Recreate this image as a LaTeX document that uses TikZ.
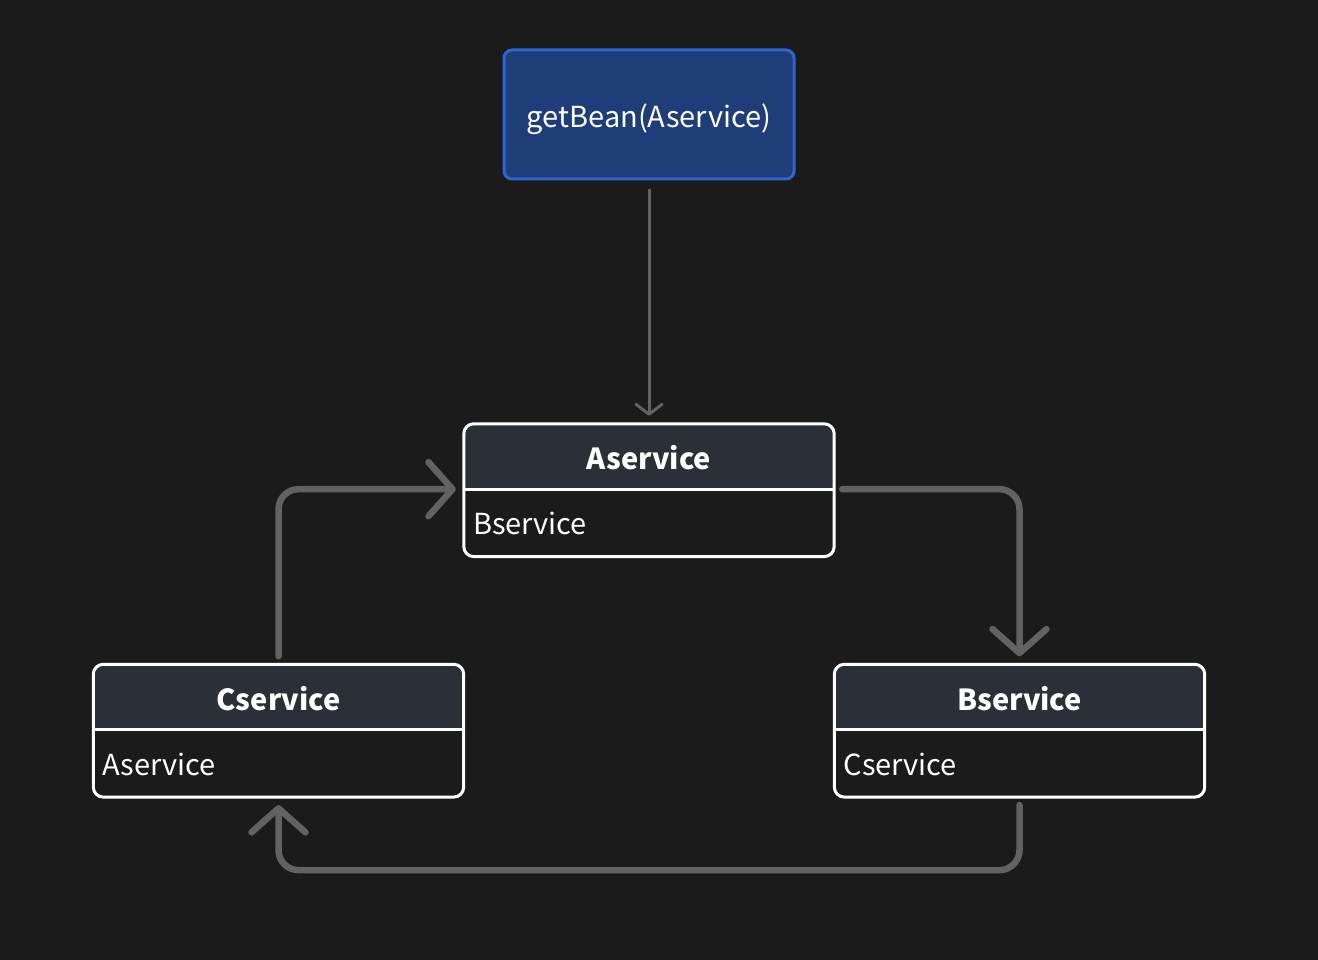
\documentclass[tikz,border=0pt]{standalone}
\usepackage{fontspec}
\setmainfont{Noto Sans CJK SC}
\usetikzlibrary{positioning,arrows.meta,backgrounds}

\definecolor{bgcol}{HTML}{1B1B1B}
\definecolor{headcol}{HTML}{2B2F38}
\definecolor{beanfill}{HTML}{1F3D78}
\definecolor{beanline}{HTML}{2E66D0}
\definecolor{linkcol}{HTML}{626262}

\tikzset{
	beanbox/.style={draw=beanline, fill=beanfill, line width=3pt, rounded corners=8pt,
		minimum width=290pt, minimum height=129pt, text=white, font=\fontsize{29}{35}\selectfont},
	classhead/.style={minimum width=370pt, minimum height=65pt, inner sep=0pt,
		text=white, font=\fontsize{29}{35}\selectfont\bfseries},
	classbody/.style={minimum height=67pt, text width=352pt, inner xsep=9pt, inner ysep=0pt,
		align=left, text=white, font=\fontsize{29}{35}\selectfont},
	classline/.style={draw=white, line width=3pt},
	callarrow/.style={draw=linkcol, line width=3pt, -{Straight Barb[length=10pt,width=26pt,round]}},
	deparrow/.style={draw=linkcol, line width=6.5pt, rounded corners=20pt, line cap=round,
		-{Straight Barb[length=24pt,width=54pt,round]}}
}

% text set on a baseline below the node centre
\newcommand{\lowtext}[2]{\raisebox{-#1}[0pt][0pt]{#2}}

\newcommand{\classframe}[2]{%
	\begin{pgfonlayer}{background}
		\fill[headcol, rounded corners=10pt] (#1.north west) rectangle (#1.south east);
		\fill[headcol] (#1.west) rectangle (#1.south east);
	\end{pgfonlayer}
	\draw[classline, rounded corners=10pt] (#1.north west) rectangle (#2.south east);
	\draw[classline] (#1.south west) -- (#1.south east);
}

\begin{document}
\begin{tikzpicture}[x=1pt,y=-1pt]
	%background
		\useasboundingbox (0,0) rectangle (1318,960);
		\begin{pgfonlayer}{background}
			\fill[bgcol] (0,0) rectangle (1318,960);
		\end{pgfonlayer}
	%call
		\node[beanbox] (get) at (649,114.5) {\lowtext{13pt}{getBean(Aservice)}};
	%classes
		\node[classhead] (A) at (649,456.5) {\lowtext{13pt}{Aservice}};
		\node[classbody, below=0pt of A] (Ab) {\lowtext{12pt}{Bservice}};
		\node[classhead] (C) at (278.5,697) {\lowtext{13pt}{Cservice}};
		\node[classbody, below=0pt of C] (Cb) {\lowtext{12pt}{Aservice}};
		\node[classhead] (B) at (1019.5,697) {\lowtext{13pt}{Bservice}};
		\node[classbody, below=0pt of B] (Bb) {\lowtext{12pt}{Cservice}};
		\classframe{A}{Ab}
		\classframe{C}{Cb}
		\classframe{B}{Bb}
	%links
		\draw[callarrow] ([yshift=-9pt]get.south) -- ([yshift=8pt]A.north);
		\draw[deparrow] ([yshift=8pt]C.north) |- ([xshift=-8pt]A.south west);
		\draw[deparrow] ([xshift=8pt]A.south east) -| ([yshift=8pt]B.north);
		\draw[deparrow] ([yshift=-8pt]Bb.south) -- ++(0,65) -| ([yshift=-8pt]Cb.south);
\end{tikzpicture}
\end{document}
